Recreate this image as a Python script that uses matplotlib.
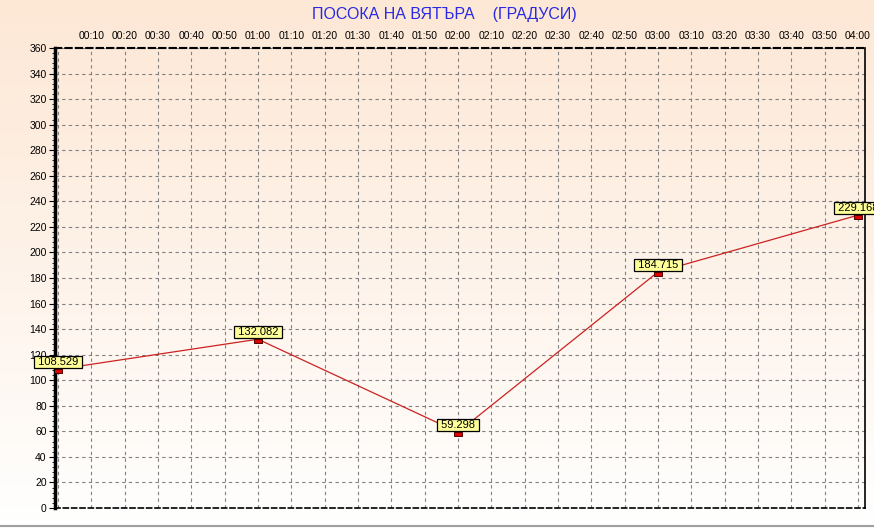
import numpy as np
from matplotlib import pyplot as plt

# wind direction, degrees, hourly readings
minutes = [0, 60, 120, 180, 240]
direction = [108.529, 132.082, 59.298, 184.715, 229.168]

tick_minutes = list(range(10, 250, 10))
tick_labels = ["%02d:%02d" % (m // 60, m % 60) for m in tick_minutes]
y_ticks = list(range(0, 361, 20))

plt.rcParams["font.family"] = ["Liberation Sans", "DejaVu Sans"]

fig = plt.figure(figsize=(8.74, 5.29), dpi=100)

# peach-to-white background
bg = fig.add_axes([0, 0, 1, 1], zorder=-10)
grad = np.linspace(0, 1, 256).reshape(-1, 1)
top = np.array([253, 232, 214]) / 255
bot = np.array([255, 255, 255]) / 255
img = top + (bot - top) * grad[:, :, None] ** 1.1
bg.imshow(img, aspect="auto", extent=[0, 1, 0, 1])
bg.axis("off")
bg.plot([0, 1], [0.006, 0.006], color="#a0a0a0", lw=1.5)

ax = fig.add_axes([0.0629, 0.0397, 0.9268, 0.8696])
ax.patch.set_alpha(0)
ax.plot(minutes, direction, color="#cc2222", lw=0.9, zorder=3)

# flat rectangular markers hanging just under each point
rect = [(-1, -0.05), (1, -0.05), (1, -1), (-1, -1), (-1, -0.05)]
ax.plot(minutes, direction, ls="none", marker=rect, ms=6, mfc="#dd0000",
        mec="#550000", mew=0.7, zorder=4)

for m, v in zip(minutes, direction):
    ax.annotate(" %.3f " % v, (m, v), xytext=(0, 1.5), textcoords="offset points",
                fontsize=8, va="bottom", ha="center", zorder=5,
                bbox=dict(boxstyle="square,pad=0.1", fc="#ffff99", ec="black", lw=0.9))

ax.set_xlim(-0.9, 242.1)
ax.set_ylim(0, 360)
ax.set_xticks(tick_minutes)
ax.set_xticklabels(tick_labels)
ax.xaxis.tick_top()
ax.set_yticks(y_ticks)
ax.set_yticks(range(0, 361, 4), minor=True)
ax.tick_params(axis="x", length=0, labelsize=7.5, pad=5)
ax.tick_params(axis="y", which="major", length=4, labelsize=7.5, pad=2)
ax.tick_params(axis="y", which="minor", length=2)

ax.grid(True, color="#808080", ls=(0, (3, 3)), lw=0.8)
ax.axvline(0, color="#808080", ls=(0, (3, 3)), lw=0.8)

ax.spines["left"].set_linewidth(2.5)
ax.spines["right"].set_linewidth(1.2)
ax.spines["top"].set_linestyle((0, (3, 2)))
ax.spines["top"].set_linewidth(1.5)
ax.spines["bottom"].set_linestyle((0, (3, 2)))
ax.spines["bottom"].set_linewidth(1.2)

fig.text(0.509, 0.972, "ПОСОКА НА ВЯТЪРА    (ГРАДУСИ)", color="#2a2ae0",
         fontsize=11.5, ha="center", va="center")

fig.savefig("out.png", dpi=100)
